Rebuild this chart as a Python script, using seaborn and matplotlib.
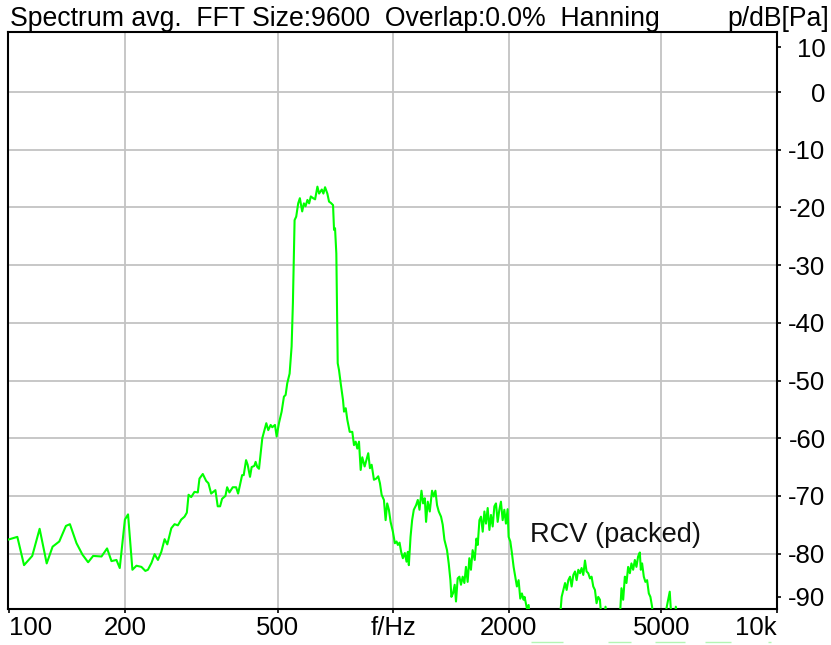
import matplotlib
matplotlib.use("Agg")
import matplotlib.pyplot as plt
import seaborn as sns
import numpy as np

# spectrum (Hz, dB re Pa); -100 = below the floor
freq_hz = [
    99.0, 104.9, 109.2, 114.7, 119.9, 125.1, 129.6, 134.9, 140.4, 143.8,
    149.6, 155.1, 160.4, 165.3, 173.8, 179.7, 184.5, 190.1, 193.9, 200.0,
    203.8, 209.2, 214.3, 220.8, 226.1, 229.6, 234.6, 239.0, 243.8, 248.8,
    253.8, 257.9, 264.2, 269.4, 274.8, 280.4, 286.0, 290.0, 293.0, 297.7,
    303.6, 309.7, 312.8, 319.1, 325.6, 330.1, 335.5, 344.2, 349.0, 354.0,
    358.3, 365.5, 369.3, 374.4, 381.9, 389.7, 394.4, 404.0, 407.9, 413.7,
    417.7, 423.6, 427.8, 434.7, 438.1, 442.6, 447.1, 456.0, 467.1, 472.6,
    479.5, 484.1, 492.0, 497.0, 503.9, 512.1, 519.2, 524.5, 529.6, 537.2,
    543.7, 547.9, 551.2, 553.5, 558.9, 565.6, 571.3, 579.3, 585.2, 591.1,
    597.8, 604.0, 610.1, 618.6, 626.0, 634.7, 641.2, 651.6, 657.9, 664.5,
    673.7, 680.6, 687.5, 697.1, 701.3, 705.5, 711.0, 716.9, 722.5, 729.9,
    740.1, 744.6, 752.2, 759.4, 770.4, 782.5, 790.5, 798.6, 806.2, 814.5,
    822.8, 830.7, 842.7, 850.8, 861.0, 869.9, 878.8, 891.0, 903.3, 914.2,
    923.6, 933.0, 945.9, 955.6, 964.7, 974.6, 984.6, 998.2, 1010.2, 1020.5,
    1028.5, 1039.0, 1049.0, 1059.7, 1072.4, 1083.4, 1091.9, 1098.5, 1109.7, 1120.3,
    1131.7, 1147.3, 1159.1, 1171.0, 1185.0, 1196.4, 1208.6, 1218.1, 1230.5, 1245.4,
    1262.5, 1275.5, 1288.4, 1301.0, 1314.3, 1332.5, 1346.1, 1359.9, 1381.2, 1395.3,
    1409.6, 1418.0, 1431.6, 1446.3, 1457.6, 1472.4, 1487.6, 1501.8, 1517.1, 1532.7,
    1547.4, 1563.2, 1579.2, 1594.4, 1610.6, 1631.0, 1647.6, 1660.6, 1677.6, 1693.6,
    1711.0, 1728.4, 1745.0, 1762.8, 1781.0, 1798.0, 1816.4, 1835.0, 1852.6, 1871.6,
    1890.6, 1908.8, 1928.4, 1948.0, 1966.8, 1986.8, 1998.8, 2019.2, 2038.6, 2059.4,
    2080.6, 2100.6, 2122.0, 2143.6, 2164.4, 2186.4, 2199.6, 2230.4, 2253.6, 2275.6,
    2390.0, 2538.0, 2721.3, 2747.4, 2775.6, 2804.1, 2830.8, 2859.8, 2889.0, 2916.9,
    2946.6, 2976.6, 3005.4, 3036.1, 3067.1, 3096.7, 3128.2, 3160.1, 3190.4, 3223.3,
    3256.2, 3287.5, 3321.1, 3355.0, 3387.4, 3421.8, 3456.9, 3483.7, 3545.0, 3574.6,
    3611.3, 3743.2, 3896.0, 3933.5, 3973.7, 4014.4, 4052.9, 4094.2, 4136.3, 4176.2,
    4218.6, 4262.1, 4302.8, 4346.6, 4391.3, 4417.5, 4452.1, 4497.5, 4540.8, 4587.4,
    4634.7, 4679.2, 4726.4, 4754.8, 4899.7, 5099.3, 5254.6, 5305.1, 5410.0, 5450.0,
    5490.0, 5837.0, 10000.0,
]
level_db = [
    -77.6, -77.1, -82.0, -80.4, -75.7, -81.7, -78.8, -77.9, -75.2, -74.9,
    -78.2, -80.2, -81.5, -80.4, -80.5, -79.1, -81.3, -81.1, -82.5, -74.1,
    -73.2, -82.8, -82.1, -82.3, -83.0, -82.8, -81.6, -80.1, -81.1, -79.7,
    -77.5, -78.4, -75.6, -74.9, -75.1, -74.1, -73.6, -72.9, -69.8, -70.2,
    -69.3, -69.4, -67.0, -66.2, -67.4, -67.8, -69.6, -69.0, -71.8, -71.8,
    -70.5, -70.0, -68.5, -69.4, -68.5, -68.5, -69.6, -66.4, -66.4, -63.8,
    -64.6, -66.7, -65.0, -64.8, -64.1, -65.0, -65.3, -60.0, -57.4, -58.6,
    -57.7, -58.1, -57.7, -59.7, -57.4, -55.4, -52.8, -52.5, -50.5, -48.8,
    -44.1, -36.6, -28.0, -22.2, -21.6, -19.3, -18.4, -20.7, -19.3, -19.8,
    -18.7, -19.3, -18.1, -18.4, -18.6, -16.4, -17.6, -16.9, -17.6, -16.5,
    -17.6, -19.0, -19.2, -19.6, -23.9, -23.6, -28.0, -47.0, -48.2, -50.5,
    -53.4, -55.4, -54.8, -56.8, -58.9, -58.9, -61.2, -60.6, -61.8, -60.6,
    -65.5, -63.3, -64.9, -63.9, -62.6, -65.2, -64.6, -67.2, -67.0, -66.6,
    -67.8, -69.8, -70.7, -74.2, -71.3, -72.4, -74.5, -76.2, -78.2, -77.9,
    -78.5, -78.1, -79.7, -80.8, -79.9, -81.4, -79.7, -82.0, -77.1, -74.2,
    -72.4, -71.6, -70.7, -72.4, -69.1, -71.3, -70.4, -74.5, -71.0, -72.7,
    -69.1, -70.1, -69.1, -71.6, -72.7, -73.6, -75.0, -77.6, -79.4, -81.7,
    -84.6, -87.5, -86.9, -85.4, -88.3, -84.3, -84.0, -85.4, -84.0, -85.1,
    -82.3, -84.9, -80.8, -82.8, -79.4, -81.1, -77.4, -78.5, -74.2, -73.6,
    -76.2, -72.7, -74.8, -72.1, -75.9, -73.3, -75.3, -71.8, -71.3, -74.5,
    -72.4, -71.0, -74.2, -72.4, -74.8, -72.3, -77.1, -77.9, -79.9, -82.3,
    -84.0, -85.7, -84.6, -87.8, -86.9, -88.0, -87.5, -89.5, -88.9, -92.0,
    -100.0, -100.0, -91.0, -87.5, -86.3, -85.1, -86.3, -84.6, -84.0, -85.7,
    -83.7, -83.1, -84.6, -82.8, -83.4, -82.5, -83.7, -81.2, -83.1, -83.4,
    -84.3, -84.0, -85.7, -86.3, -88.6, -87.5, -88.0, -91.0, -91.0, -89.2,
    -92.0, -100.0, -91.0, -86.0, -88.0, -84.0, -85.1, -82.3, -83.4, -81.7,
    -82.8, -81.1, -82.3, -80.5, -79.8, -82.8, -81.7, -84.0, -84.9, -84.6,
    -86.9, -87.5, -89.2, -91.0, -100.0, -91.0, -86.6, -91.0, -91.0, -89.2,
    -91.0, -100.0, -100.0,
]

# faint trace drawn under the tick labels in the original
floor_start_hz = [2280, 3633, 4812, 6489, 9459]
floor_end_hz = [2776, 4176, 5758, 7580, 9630]

x_ticks = [100, 200, 500, 1000, 2000, 5000, 10000]
x_tick_labels = ["100", "200", "500", "f/Hz", "2000", "5000", "10k"]
x_grid = [200, 500, 1000, 2000, 5000]
y_grid = [0, -10, -20, -30, -40, -50, -60, -70, -80]
y_tick_labels = ["10", "0", "-10", "-20", "-30", "-40", "-50", "-60", "-70", "-80", "-90"]

sns.set_theme(style="white")
plt.rcParams["font.family"] = ["Liberation Sans", "DejaVu Sans"]

fig = plt.figure(figsize=(8.31, 6.45), dpi=100)
ax = fig.add_axes([8.2 / 831, 36 / 645, 768.8 / 831, 577 / 645])

y_lo, y_hi = -89.6, 10.4
ax.set_xscale("log")
ax.set_xlim(99.3, 10000)
ax.set_ylim(y_lo, y_hi)

for gx in x_grid:
    ax.axvline(gx, color="#c3c3c3", lw=1.3, zorder=0)
for gy in y_grid:
    ax.axhline(gy, color="#c3c3c3", lw=1.3, zorder=0)

sns.lineplot(x=freq_hz, y=level_db, ax=ax, color="#00ff00", linewidth=1.5,
             estimator=None, sort=False, zorder=3)

ax.hlines([-95.3] * len(floor_start_hz), floor_start_hz, floor_end_hz,
          color="#b4f5b4", lw=1.0, clip_on=False)

ax.text(3790, -76.8, "RCV (packed)", fontsize=19.6, ha="center", va="center",
        color="#111111")

# x axis
ax.set_xticks(x_ticks)
ax.set_xticklabels(x_tick_labels)
ax.xaxis.set_minor_locator(matplotlib.ticker.NullLocator())
ax.tick_params(axis="x", direction="out", length=3, width=1.2, color="black",
               labelsize=18.5, labelcolor="black", pad=2, bottom=True)
xl = ax.get_xticklabels()
xl[0].set_ha("left")
xl[-1].set_ha("right")

# y axis on the right; end labels pulled inside the frame
y_pos = [y_hi - 2.6] + y_grid + [y_lo + 2.1]
ax.yaxis.tick_right()
ax.set_yticks(y_pos)
ax.set_yticklabels(y_tick_labels)
ax.tick_params(axis="y", direction="out", length=3, width=1.2, color="black",
               labelsize=18.5, labelcolor="black", pad=32, right=True, left=False)
for t in ax.yaxis.get_major_ticks():
    t.label2.set_horizontalalignment("right")

for s in ax.spines.values():
    s.set_color("black")
    s.set_linewidth(1.5)

ax.set_xlabel("")
ax.set_ylabel("")

fig.text(10 / 831, 1 - 26 / 645, "Spectrum avg.  FFT Size:9600  Overlap:0.0%  Hanning",
         fontsize=19.2, ha="left", va="baseline", color="black")
fig.text(829 / 831, 1 - 26 / 645, "p/dB[Pa]", fontsize=19.2, ha="right",
         va="baseline", color="black")

fig.savefig("out.png", dpi=100)
